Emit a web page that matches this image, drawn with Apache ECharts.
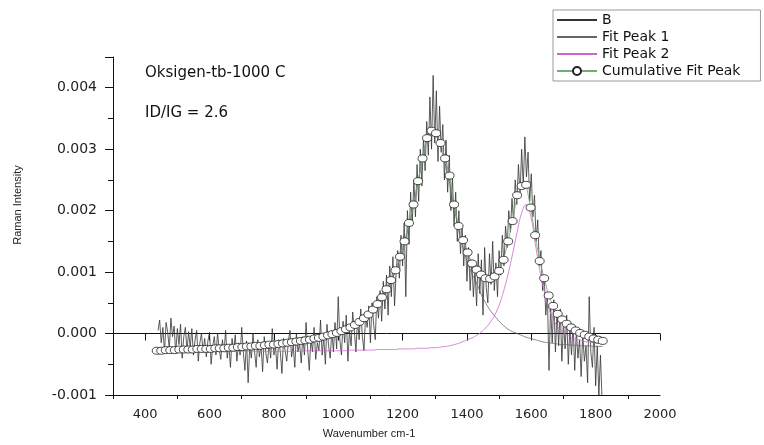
<!DOCTYPE html>
<html>
<head>
<meta charset="utf-8">
<script src="https://cdn.jsdelivr.net/npm/echarts@6/dist/echarts.min.js"></script>
<style>
  html, body { margin: 0; padding: 0; background: #fff; }
  #raman { width: 764px; height: 445px; }
</style>
</head>
<body>
<div id="raman"></div>
<script>
// 原始谱图 B：440 起，每 5 cm-1 一个点
var rawStart = 440, rawStep = 5;
var rawB = [
  0.00005, 0.00022, -0.00015, 0.00010, -0.00030, 0.00018, 0.00002, -0.00025, 0.00025, -0.00005,
  0.00012, -0.00032, 0.00008, -0.00018, 0.00015, -0.00040, -0.00005, 0.00010, -0.00028, 0.00003,
  -0.00022, 0.00008, -0.00035, -0.00010, 0.00005, -0.00045, -0.00015, 0.00000, -0.00030, -0.00008,
  -0.00038, -0.00012, 0.00002, -0.00050, -0.00020, -0.00005, -0.00035, 0.00000, -0.00025, -0.00042,
  -0.00010, -0.00030, 0.00005, -0.00040, -0.00018, -0.00055, -0.00008, -0.00028, -0.00002, -0.00045,
  -0.00015, -0.00035, 0.00010, -0.00030, -0.00060, -0.00012, -0.00080, -0.00020, -0.00040, 0.00000,
  -0.00030, -0.00055, -0.00010, -0.00038, -0.00018, -0.00062, -0.00005, -0.00032, -0.00048, -0.00015,
  -0.00040, 0.00008, -0.00035, -0.00020, -0.00058, -0.00010, -0.00030, -0.00065, -0.00008, -0.00028,
  -0.00045, -0.00012, 0.00005, -0.00038, -0.00020, -0.00055, 0.00000, -0.00030, -0.00015, -0.00048,
  -0.00005, -0.00035, 0.00018, -0.00025, -0.00060, -0.00008, -0.00030, 0.00010, -0.00042, -0.00015,
  -0.00028, 0.00022, -0.00035, -0.00005, -0.00050, 0.00015, -0.00020, -0.00040, 0.00005, -0.00030,
  0.00018, -0.00025, 0.00060, -0.00010, -0.00035, 0.00020, -0.00015, 0.00030, -0.00045, 0.00005,
  -0.00020, 0.00035, 0.00005, -0.00030, 0.00025, -0.00010, 0.00040, -0.00005, -0.00028, 0.00030,
  0.00010, 0.00045, -0.00015, 0.00050, 0.00015, -0.00010, 0.00060, 0.00025, 0.00070, 0.00020,
  0.00085, 0.00040, 0.00095, 0.00030, 0.00110, 0.00060, 0.00125, 0.00045, 0.00100, 0.00135,
  0.00090, 0.00160, 0.00110, 0.00180, 0.00060, 0.00200, 0.00145, 0.00230, 0.00175, 0.00250,
  0.00190, 0.00275, 0.00215, 0.00300, 0.00240, 0.00320, 0.00265, 0.00345, 0.00290, 0.00385,
  0.00300, 0.00420, 0.00310, 0.00395, 0.00280, 0.00370, 0.00295, 0.00340, 0.00250, 0.00315,
  0.00230, 0.00290, 0.00200, 0.00255, 0.00175, 0.00230, 0.00150, 0.00200, 0.00130, 0.00175,
  0.00110, 0.00160, 0.00085, 0.00140, 0.00070, 0.00120, 0.00060, 0.00105, 0.00045, 0.00130,
  0.00065, 0.00120, 0.00030, 0.00140, 0.00075, 0.00050, 0.00130, 0.00080, 0.00150, 0.00070,
  0.00115, 0.00060, 0.00135, 0.00095, 0.00160, 0.00110, 0.00175, 0.00140, 0.00200, 0.00165,
  0.00220, 0.00180, 0.00250, 0.00210, 0.00275, 0.00225, 0.00300, 0.00240, 0.00320, 0.00255,
  0.00295, 0.00215, 0.00260, 0.00190, 0.00225, 0.00150, 0.00185, 0.00110, 0.00135, 0.00070,
  0.00095, 0.00030, 0.00065, -0.00060, 0.00045, -0.00015, 0.00055, -0.00030, 0.00035, -0.00020,
  0.00040, -0.00045, 0.00020, -0.00025, 0.00030, -0.00050, 0.00010, -0.00035, 0.00015, -0.00060,
  0.00005, -0.00040, -0.00010, -0.00070, 0.00000, -0.00045, -0.00020, -0.00080, 0.00060, -0.00030,
  -0.00055, 0.00010, -0.00085, -0.00020, -0.00100, -0.00035, -0.00110
];

// 拟合曲线：436 起，每 14 cm-1 一个点
var fitStart = 436, fitStep = 14;
var fitPeak1 = [
  -0.00029, -0.00029, -0.00028, -0.00028, -0.00028, -0.00027, -0.00027, -0.00027, -0.00027, -0.00026,
  -0.00026, -0.00026, -0.00026, -0.00025, -0.00025, -0.00025, -0.00024, -0.00024, -0.00023, -0.00023,
  -0.00022, -0.00022, -0.00021, -0.00021, -0.00020, -0.00019, -0.00019, -0.00018, -0.00017, -0.00016,
  -0.00015, -0.00014, -0.00013, -0.00012, -0.00011, -0.00009, -0.00008, -0.00006, -0.00004, -0.00002,
  -0.00001, 0.00002, 0.00005, 0.00008, 0.00012, 0.00017, 0.00023, 0.00029, 0.00037, 0.00046,
  0.00057, 0.00070, 0.00085, 0.00101, 0.00123, 0.00148, 0.00178, 0.00208, 0.00246, 0.00283,
  0.00316, 0.00328, 0.00322, 0.00303, 0.00276, 0.00245, 0.00205, 0.00170, 0.00140, 0.00115,
  0.00097, 0.00082, 0.00064, 0.00050, 0.00038, 0.00029, 0.00020, 0.00013, 0.00007, 0.00003,
  0.00000, -0.00003, -0.00006, -0.00008, -0.00010, -0.00012, -0.00014, -0.00015, -0.00016, -0.00017,
  -0.00018, -0.00018, -0.00019, -0.00019, -0.00020, -0.00020, -0.00020, -0.00021, -0.00021, -0.00021
];
var fitPeak2 = [
  -0.00030, -0.00030, -0.00030, -0.00030, -0.00030, -0.00030, -0.00030, -0.00030, -0.00030, -0.00030,
  -0.00030, -0.00030, -0.00030, -0.00029, -0.00029, -0.00029, -0.00029, -0.00029, -0.00029, -0.00029,
  -0.00029, -0.00029, -0.00029, -0.00029, -0.00029, -0.00029, -0.00029, -0.00029, -0.00029, -0.00029,
  -0.00029, -0.00029, -0.00029, -0.00028, -0.00028, -0.00028, -0.00028, -0.00028, -0.00028, -0.00028,
  -0.00028, -0.00028, -0.00028, -0.00027, -0.00027, -0.00027, -0.00027, -0.00027, -0.00027, -0.00026,
  -0.00026, -0.00026, -0.00026, -0.00026, -0.00025, -0.00025, -0.00025, -0.00025, -0.00024, -0.00024,
  -0.00024, -0.00023, -0.00023, -0.00022, -0.00021, -0.00020, -0.00018, -0.00016, -0.00013, -0.00010,
  -0.00007, -0.00003, 0.00002, 0.00009, 0.00018, 0.00030, 0.00046, 0.00069, 0.00097, 0.00130,
  0.00165, 0.00196, 0.00210, 0.00192, 0.00148, 0.00104, 0.00069, 0.00042, 0.00024, 0.00011,
  0.00003, -0.00002, -0.00006, -0.00009, -0.00011, -0.00013, -0.00014, -0.00015, -0.00016, -0.00017
];
var cumulativeFit = [
  -0.00028, -0.00028, -0.00027, -0.00027, -0.00027, -0.00026, -0.00026, -0.00026, -0.00026, -0.00025,
  -0.00025, -0.00025, -0.00025, -0.00024, -0.00024, -0.00024, -0.00023, -0.00023, -0.00022, -0.00022,
  -0.00021, -0.00021, -0.00020, -0.00020, -0.00019, -0.00018, -0.00018, -0.00017, -0.00016, -0.00015,
  -0.00014, -0.00013, -0.00012, -0.00011, -0.00010, -0.00008, -0.00007, -0.00005, -0.00003, -0.00001,
  0.00001, 0.00004, 0.00007, 0.00010, 0.00014, 0.00019, 0.00025, 0.00031, 0.00039, 0.00048,
  0.00059, 0.00072, 0.00087, 0.00103, 0.00125, 0.00150, 0.00180, 0.00210, 0.00248, 0.00285,
  0.00318, 0.00330, 0.00326, 0.00310, 0.00285, 0.00257, 0.00210, 0.00175, 0.00152, 0.00132,
  0.00114, 0.00104, 0.00096, 0.00090, 0.00089, 0.00093, 0.00102, 0.00120, 0.00150, 0.00183,
  0.00225, 0.00240, 0.00242, 0.00205, 0.00160, 0.00118, 0.00090, 0.00062, 0.00045, 0.00032,
  0.00023, 0.00016, 0.00010, 0.00005, 0.00001, -0.00002, -0.00005, -0.00008, -0.00010, -0.00012
];

var xMajorTicks = [400, 600, 800, 1000, 1200, 1400, 1600, 1800, 2000];
var xMinorTicks = [300, 500, 700, 900, 1100, 1300, 1500, 1700, 1900];
var seriesNames = ['B', 'Fit Peak 1', 'Fit Peak 2', 'Cumulative Fit Peak'];

function pairs(start, step, values) {
    return values.map(function (v, i) { return [start + i * step, v]; });
}

var tickColor = '#111';
var labelFont = 'DejaVu Sans';

// 图例：纯线条的系列隐藏符号
var legendData = seriesNames.map(function (n) {
    if (n === 'Cumulative Fit Peak') {
        return { name: n };
    }
    return { name: n, itemStyle: { opacity: 0 } };
});

var option = {
    backgroundColor: '#fff',
    animation: false,
    grid: { left: 113, top: 57, width: 547, height: 338, outerBoundsMode: 'none' },
    legend: {
        orient: 'vertical',
        left: 553,
        top: 10,
        itemWidth: 40,
        itemHeight: 10,
        itemGap: 3,
        padding: [3, 20, 3, 3],
        borderColor: '#999',
        borderWidth: 1,
        borderRadius: 0,
        backgroundColor: '#fff',
        textStyle: { fontFamily: labelFont, fontSize: 14, color: '#111' },
        data: legendData
    },
    graphic: [
        { type: 'text', left: 145, top: 66,
          style: { text: 'Oksigen-tb-1000 C', fontFamily: labelFont, fontSize: 15, fill: '#111' } },
        { type: 'text', left: 145, top: 106,
          style: { text: 'ID/IG = 2.6', fontFamily: labelFont, fontSize: 15, fill: '#111' } }
    ],
    xAxis: [{
        type: 'value',
        min: 300, max: 2000, interval: 100,
        name: 'Wavenumber cm-1',
        nameLocation: 'middle',
        nameGap: 33,
        nameTextStyle: { fontFamily: 'Liberation Sans', fontSize: 11, color: '#222', padding: [0, 35, 0, 0] },
        axisLine: { show: true, lineStyle: { color: tickColor, width: 1 } },
        axisTick: { show: true, length: 7, customValues: xMajorTicks, lineStyle: { color: tickColor } },
        axisLabel: {
            customValues: xMajorTicks, margin: 13,
            fontFamily: labelFont, fontSize: 13, color: '#222',
            formatter: function (v) { return String(v); }
        },
        splitLine: { show: false }
    }, {
        type: 'value',
        min: 300, max: 2000, interval: 100,
        position: 'bottom',
        axisLine: { show: true, lineStyle: { color: tickColor, width: 1 } },
        axisTick: { show: true, length: 4, customValues: xMinorTicks, lineStyle: { color: tickColor } },
        axisLabel: { show: false },
        splitLine: { show: false }
    }],
    yAxis: {
        type: 'value',
        min: -0.001, max: 0.0045, interval: 0.001,
        name: 'Raman Intensity',
        nameLocation: 'middle',
        nameGap: 90,
        nameTextStyle: { fontFamily: 'Liberation Sans', fontSize: 11, color: '#222', padding: [0, 0, 0, 42] },
        axisLine: { show: true, lineStyle: { color: tickColor, width: 1 } },
        axisTick: { show: true, length: 8, lineStyle: { color: tickColor } },
        minorTick: { show: true, splitNumber: 2, length: 5, lineStyle: { color: tickColor } },
        axisLabel: {
            showMaxLabel: false,
            margin: 16,
            fontFamily: labelFont, fontSize: 14, color: '#222',
            formatter: function (v) { return (Math.abs(v) < 1e-9 ? 0 : v).toFixed(3); }
        },
        splitLine: { show: false },
        minorSplitLine: { show: false }
    },
    series: [{
        name: 'B',
        type: 'line',
        symbol: 'none',
        lineStyle: { color: '#333', width: 0.8 },
        itemStyle: { color: '#333' },
        data: pairs(rawStart, rawStep, rawB)
    }, {
        name: 'Fit Peak 1',
        type: 'line',
        symbol: 'none',
        smooth: true,
        lineStyle: { color: '#666', width: 0.8 },
        itemStyle: { color: '#666' },
        data: pairs(fitStart, fitStep, fitPeak1)
    }, {
        name: 'Fit Peak 2',
        type: 'line',
        symbol: 'none',
        smooth: true,
        lineStyle: { color: '#cc66cc', width: 0.8 },
        itemStyle: { color: '#cc66cc' },
        data: pairs(fitStart, fitStep, fitPeak2)
    }, {
        name: 'Cumulative Fit Peak',
        type: 'line',
        symbol: 'circle',
        symbolSize: [9, 7],
        showAllSymbol: true,
        lineStyle: { color: '#6fae6f', width: 0.8 },
        itemStyle: { color: '#fff', borderColor: '#222', borderWidth: 0.8 },
        data: pairs(fitStart, fitStep, cumulativeFit)
    }]
};

var myChart = echarts.init(document.getElementById('raman'));
myChart.setOption(option);
</script>
</body>
</html>
